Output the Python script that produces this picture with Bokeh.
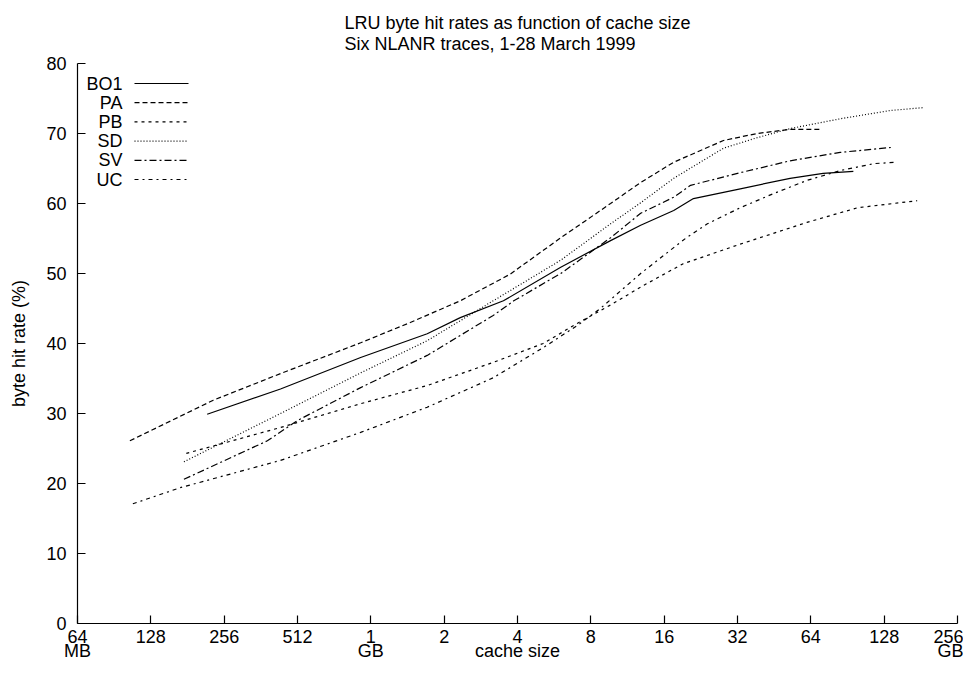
from bokeh.plotting import figure
from bokeh.models import Range1d, FixedTicker, LogAxis
from bokeh.core.properties import value
from bokeh.embed import file_html
from bokeh.resources import INLINE

FONT = "Liberation Sans"
FS = "18px"

title_text = "LRU byte hit rates as function of cache size\nSix NLANR traces, 1-28 March 1999"
x_title = "cache size"
y_title = "byte hit rate (%)"

# x ticks: cache size in MB (log2 scale)
tick_mb = [64, 128, 256, 512, 1024, 2048, 4096, 8192, 16384, 32768, 65536, 131072, 262144]
tick_labels = ["64", "128", "256", "512", "1", "2", "4", "8", "16", "32", "64", "128", "256"]
# second label row: units, plus the axis title under the "4" tick
unit_mb = [64, 1024, 4096, 262144]
unit_labels = ["MB", "GB", x_title, "GB"]
y_ticks = [0, 10, 20, 30, 40, 50, 60, 70, 80]

series_names = ["BO1", "PA", "PB", "SD", "SV", "UC"]

bo1_size = [218, 436, 930, 1745, 2385, 3586, 6164, 9872, 13120, 17930, 21610, 33650, 53880, 73600, 97960]
bo1_rate = [29.9, 33.5, 38.0, 41.4, 43.7, 46.1, 50.9, 54.7, 56.9, 59.0, 60.7, 62.1, 63.6, 64.3, 64.6]

pa_size = [105, 231, 436, 930, 1487, 2385, 3820, 6164, 9872, 13120, 17930, 28700, 39440, 53880, 71590]
pa_rate = [26.1, 31.9, 35.7, 40.1, 43.0, 46.1, 49.9, 55.1, 60.0, 63.0, 65.9, 69.0, 70.0, 70.6, 70.6]

pb_size = [179, 436, 930, 1745, 3255, 5220, 7227, 9872, 13480, 19620, 33650, 63180, 102100, 179000]
pb_rate = [24.3, 28.0, 31.4, 34.0, 37.3, 40.0, 42.9, 45.5, 48.3, 51.4, 54.2, 57.3, 59.4, 60.4]

sd_size = [175, 436, 930, 1745, 3255, 6164, 9872, 13120, 17930, 28700, 39440, 53880, 86470, 139500, 190500]
sd_rate = [23.1, 30.0, 35.8, 40.4, 46.1, 51.9, 57.1, 60.1, 63.6, 67.9, 69.4, 70.7, 72.1, 73.3, 73.7]

sv_size = [175, 385, 512, 930, 1745, 3255, 3954, 6164, 9872, 13120, 17930, 21030, 33650, 53880, 86470, 139500]
sv_rate = [20.6, 26.1, 29.0, 33.7, 38.3, 44.0, 46.1, 50.0, 55.1, 58.6, 60.9, 62.6, 64.4, 66.1, 67.3, 68.0]

uc_size = [108, 169, 436, 930, 1745, 3255, 5220, 7227, 8960, 13120, 17930, 20030, 24650, 33650, 45950, 63180, 86470, 119000, 148500]
uc_rate = [17.1, 19.4, 23.3, 27.3, 30.9, 35.1, 39.4, 42.6, 45.0, 50.0, 53.7, 55.0, 57.1, 59.4, 61.4, 63.3, 64.7, 65.7, 65.9]

sizes = [bo1_size, pa_size, pb_size, sd_size, sv_size, uc_size]
rates = [bo1_rate, pa_rate, pb_rate, sd_rate, sv_rate, uc_rate]
dashes = ["solid", "5 3", "3 4", "1 2", "7 3 2 3", "4 4 2 4"]

FRAME_W = 880
FRAME_H = 560

p = figure(width=963, height=665, x_axis_type="log",
           x_range=Range1d(64, 262144), y_range=Range1d(0, 80),
           output_backend="svg", toolbar_location=None,
           min_border_left=77, min_border_right=6,
           min_border_top=63, min_border_bottom=42)
p.outline_line_color = None
p.grid.visible = False
p.background_fill_color = "white"
p.border_fill_color = "white"

p.title.text = title_text
p.title.align = "center"
p.title.text_font = FONT
p.title.text_font_size = FS
p.title.text_font_style = "normal"
p.title.text_color = "black"
p.title.text_line_height = 1.05
p.title.standoff = 19


def style_axis(ax):
    ax.axis_line_color = "black"
    ax.axis_line_width = 1.2
    ax.major_tick_in = 8
    ax.major_tick_out = 0
    ax.major_tick_line_color = "black"
    ax.major_tick_line_width = 1.2
    ax.minor_tick_line_color = None
    ax.major_label_text_font = FONT
    ax.major_label_text_font_size = FS
    ax.major_label_text_color = "black"
    ax.axis_label_text_font = FONT
    ax.axis_label_text_font_size = FS
    ax.axis_label_text_font_style = "normal"
    ax.axis_label_text_color = "black"


style_axis(p.xaxis[0])
style_axis(p.yaxis[0])

p.xaxis[0].ticker = FixedTicker(ticks=tick_mb)
p.xaxis[0].major_label_overrides = {t: l for t, l in zip(tick_mb, tick_labels)}
p.xaxis[0].major_label_standoff = 6

unit_axis = LogAxis(ticker=FixedTicker(ticks=unit_mb),
                    major_label_overrides={t: l for t, l in zip(unit_mb, unit_labels)})
style_axis(unit_axis)
unit_axis.axis_line_color = None
unit_axis.major_tick_line_color = None
unit_axis.major_tick_in = 0
unit_axis.major_label_standoff = -5
p.add_layout(unit_axis, "below")

p.yaxis.ticker = FixedTicker(ticks=y_ticks)
p.yaxis.major_label_standoff = 11
p.yaxis.axis_label = y_title
p.yaxis.axis_label_standoff = 14


def fx(px):
    return 64 * 2 ** (px / (FRAME_W / 12.0))


def fy(py):
    return 80 - py * 80.0 / FRAME_H


for s, r, d in zip(sizes, rates, dashes):
    p.line(s, r, line_color="black", line_width=1.2, line_dash=d)

# legend (label right-aligned, sample line to the right)
for i, (name, d) in enumerate(zip(series_names, dashes)):
    yy = fy(20 + 19.2 * i)
    p.text(x=[fx(45)], y=[yy], text=[name], text_align="right", text_baseline="middle",
           text_font=value(FONT), text_font_size=FS, text_color="black")
    p.segment(x0=[fx(57)], y0=[yy], x1=[fx(111)], y1=[yy],
              line_color="black", line_width=1.2, line_dash=d)

open("out.html", "w").write(file_html(p, INLINE))
